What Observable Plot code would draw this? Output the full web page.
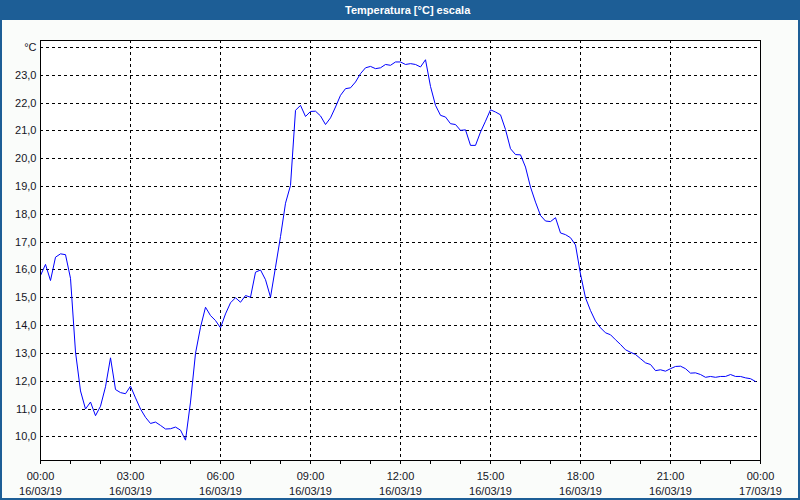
<!DOCTYPE html>
<html>
<head>
<meta charset="utf-8">
<script src="https://cdn.jsdelivr.net/npm/d3@7"></script>
<script src="https://cdn.jsdelivr.net/npm/@observablehq/plot@0.6"></script>
<style>
  html, body { margin: 0; padding: 0; background: #fafcfa; }
  #wrap { position: relative; width: 800px; height: 500px; background: #fafcfa; overflow: hidden; }
  #title { position: absolute; left: 0; top: 0; width: 800px; height: 20px; background: #1d5e96;
           color: #fff; font: bold 11px "Liberation Sans", Arial, sans-serif; line-height: 20px; }
  #title span { position: absolute; left: 345px; top: 0; }
  #chart { position: absolute; left: 0; top: 20px; }
  #border { position: absolute; left: 0; top: 0; width: 800px; height: 500px; box-sizing: border-box;
            border-left: 2px solid #1d5e96; border-right: 2px solid #1d5e96; border-bottom: 2px solid #1d5e96;
            pointer-events: none; }
  #chart svg line { shape-rendering: crispEdges; }
</style>
</head>
<body>
<div id="wrap">
  <div id="chart"></div>
  <div id="title"><span>Temperatura [°C] escala</span></div>
  <div id="border"></div>
</div>
<script>
// 10-minute samples from 16/03/19 00:00 to 23:50
const temperatures = [
  15.80, 16.20, 15.62, 16.46, 16.58, 16.55, 15.70, 13.05, 11.65, 11.00,
  11.25, 10.76, 11.10, 11.80, 12.84, 11.70, 11.59, 11.55, 11.82, 11.40,
  11.00, 10.70, 10.48, 10.53, 10.41, 10.28, 10.29, 10.35, 10.24, 9.88,
  11.25, 13.00, 13.94, 14.66, 14.36, 14.18, 13.92, 14.42, 14.82, 15.00,
  14.84, 15.08, 15.02, 15.92, 16.00, 15.65, 15.02, 16.10, 17.20, 18.40,
  19.04, 21.74, 21.92, 21.52, 21.70, 21.71, 21.54, 21.23, 21.47, 21.86,
  22.28, 22.52, 22.55, 22.76, 23.06, 23.27, 23.32, 23.24, 23.27, 23.39,
  23.36, 23.48, 23.48, 23.39, 23.42, 23.39, 23.30, 23.56, 22.60, 21.92,
  21.56, 21.50, 21.26, 21.23, 21.02, 21.04, 20.48, 20.48, 20.96, 21.35,
  21.76, 21.68, 21.58, 21.05, 20.36, 20.15, 20.14, 19.70, 18.98, 18.44,
  17.96, 17.76, 17.74, 17.88, 17.33, 17.27, 17.16, 16.90, 15.85, 15.00,
  14.54, 14.16, 13.92, 13.74, 13.67, 13.49, 13.32, 13.13, 13.04, 12.96,
  12.81, 12.66, 12.60, 12.38, 12.41, 12.36, 12.45, 12.53, 12.54, 12.45,
  12.29, 12.30, 12.24, 12.14, 12.17, 12.14, 12.17, 12.17, 12.24, 12.17,
  12.17, 12.12, 12.09, 11.99
];
const sampleMinutes = 10;

const xTickHours = [0, 3, 6, 9, 12, 15, 18, 21, 24];
const xTimeLabels = ["00:00", "03:00", "06:00", "09:00", "12:00", "15:00", "18:00", "21:00", "00:00"];
const xDateLabels = ["16/03/19", "16/03/19", "16/03/19", "16/03/19", "16/03/19", "16/03/19", "16/03/19", "16/03/19", "17/03/19"];
const xMinorHours = d3.range(0, 25);
const yTicks = d3.range(10, 25);

const data = temperatures.map((v, i) => ({hour: i * sampleMinutes / 60, temp: v}));

const yFmt = d => d === 24 ? "°C" : d.toFixed(1).replace(".", ",");
const dash = "3,3";

const chart = Plot.plot({
  width: 800,
  height: 480,
  marginTop: 20,
  marginBottom: 40,
  marginLeft: 40,
  marginRight: 40,
  style: {background: "transparent", fontFamily: "'Liberation Sans', Arial, sans-serif", fontSize: "11px", color: "#151525"},
  x: {domain: [0, 24], axis: null},
  y: {domain: [9.148, 24.252], axis: null},
  marks: [
    Plot.frame({fill: "white", stroke: null}),
    Plot.ruleY(yTicks, {stroke: "black", strokeDasharray: dash, strokeWidth: 1}),
    Plot.ruleX(xTickHours.slice(1, -1), {stroke: "black", strokeDasharray: dash, strokeWidth: 1}),
    Plot.line(data, {x: "hour", y: "temp", stroke: "#0000ff", strokeWidth: 1}),
    Plot.frame({stroke: "black", strokeWidth: 1}),
    Plot.axisX(xMinorHours, {label: null, tickSize: 4, tickFormat: () => "", stroke: "black"}),
    Plot.axisX(xTickHours, {label: null, tickSize: 0, tickPadding: 12, tickFormat: d => xTimeLabels[xTickHours.indexOf(d)], fill: "#151525"}),
    Plot.axisX(xTickHours, {label: null, tickSize: 0, tickPadding: 27, tickFormat: d => xDateLabels[xTickHours.indexOf(d)], fill: "#151525"}),
    Plot.axisY(yTicks, {label: null, tickSize: 0, tickPadding: 4, tickFormat: yFmt, fill: "#151525"})
  ]
});
document.getElementById("chart").appendChild(chart);
</script>
</body>
</html>
